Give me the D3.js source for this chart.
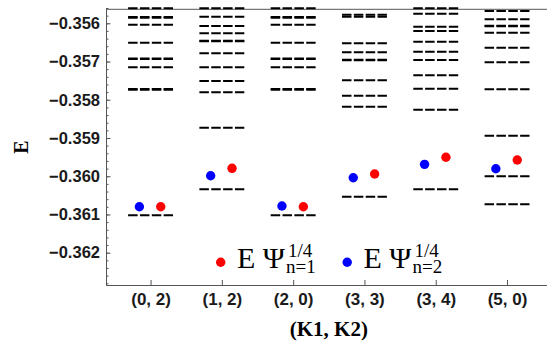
<!DOCTYPE html>
<html>
<head>
    <meta charset="utf-8">
    <script src="https://cdn.jsdelivr.net/npm/d3@7/dist/d3.min.js"></script>
</head>
<body style="margin:0;background:#fff">
<style>
    .level{
        stroke:#000;
        stroke-width:2;
        stroke-dasharray:9.5,2.35;
        fill:none;
    }
    .axis path,.axis line{stroke:#555;}
    .axis text{font-family:"Liberation Sans",Arial,sans-serif;font-weight:bold;fill:#1a1a1a;}
</style>
<script>
    var w=547,
        h=341;

    // K1,K2 pairs on the x axis
    var categories=["(0, 2)","(1, 2)","(2, 0)","(3, 3)","(3, 4)","(5, 0)"];

    // dashed energy levels for each (K1,K2)
    var levels02=[-0.355608,-0.355836,-0.355852,-0.356037,-0.356507,-0.356918,-0.356934,-0.357151,-0.357719,-0.357735,-0.361023];
    var levels12=[-0.355608,-0.355827,-0.356071,-0.356262,-0.356455,-0.356471,-0.356785,-0.357151,-0.357509,-0.357805,-0.358731,-0.360343];
    var levels20=[-0.355608,-0.355836,-0.355852,-0.356037,-0.356507,-0.356918,-0.356934,-0.357151,-0.357719,-0.357735,-0.361023];
    var levels33=[-0.355775,-0.355827,-0.356523,-0.356759,-0.356952,-0.356968,-0.357491,-0.357894,-0.358182,-0.360536];
    var levels34=[-0.355608,-0.355749,-0.356089,-0.356201,-0.356481,-0.356743,-0.356960,-0.357360,-0.357711,-0.358260,-0.360343];
    var levels50=[-0.355678,-0.355895,-0.356063,-0.356079,-0.356246,-0.356638,-0.357020,-0.357727,-0.358940,-0.360003,-0.360735];
    var levels=[levels02,levels12,levels20,levels33,levels34,levels50];

    // E Psi n=1 (red) and n=2 (blue)
    var psi1=[-0.360798,-0.359793,-0.360798,-0.359942,-0.359505,-0.359576];
    var psi2=[-0.360798,-0.359987,-0.360779,-0.360039,-0.359689,-0.359804];

    var yTicks=[-0.356,-0.357,-0.358,-0.359,-0.360,-0.361,-0.362];

    var svg=d3.select('body').append('svg').attr('width',w).attr('height',h);

    var pLeft=106,pRight=551.6,pTop=9.3,pBottom=285;

    var x=d3.scalePoint().domain(categories).range([pLeft,pRight]).padding(0.625);
    var y=d3.scaleLinear().domain([-0.362845,-0.355634]).range([pBottom,pTop]);
    var step=x.step();

    // frame top line
    svg.append('line').attr('x1',pLeft).attr('x2',w).attr('y1',pTop).attr('y2',pTop)
        .attr('stroke','#555').attr('stroke-width',1);

    // minor y ticks
    var minor=[];
    for(var v=-0.3628;v<=-0.3556;v+=0.0002){
        minor.push(+v.toFixed(4));
    }
    svg.append('g').attr('class','axis').attr('transform','translate('+pLeft+',0)')
        .call(d3.axisLeft(y).tickValues(minor).tickSize(-2.5).tickFormat(''))
        .select('.domain').remove();

    svg.append('g').attr('class','axis').attr('transform','translate('+pLeft+',0)')
        .call(d3.axisLeft(y).tickValues(yTicks).tickSize(-4.5).tickSizeOuter(0).tickPadding(6).tickFormat(d3.format('.3f')))
        .selectAll('text').style('font-size','16.5px');

    svg.append('g').attr('class','axis').attr('transform','translate(0,'+pBottom+')')
        .call(d3.axisBottom(x).tickSize(-5).tickSizeOuter(0).tickPadding(8))
        .selectAll('text').style('font-size','17px');

    // extend bottom axis line to the edge
    svg.append('line').attr('x1',pLeft).attr('x2',w).attr('y1',pBottom+0.5).attr('y2',pBottom+0.5)
        .attr('stroke','#555').attr('stroke-width',1);

    // dashed levels
    var lineArray=[];
    levels.forEach(function(arr,i){
        arr.forEach(function(v){
            lineArray.push({c:categories[i],v:v});
        });
    });
    svg.selectAll('line.level').data(lineArray).enter().append('line')
        .attr('class','level')
        .attr('x1',function(d){return x(d.c)-step*0.315})
        .attr('x2',function(d){return x(d.c)+step*0.315})
        .attr('y1',function(d){return y(d.v)})
        .attr('y2',function(d){return y(d.v)});

    // points
    svg.selectAll('circle.p2').data(psi2).enter().append('circle')
        .attr('class','p2')
        .attr('cx',function(d,i){return x(categories[i])-step*0.157})
        .attr('cy',function(d){return y(d)})
        .attr('r',4.7).attr('fill','#0000ff');
    svg.selectAll('circle.p1').data(psi1).enter().append('circle')
        .attr('class','p1')
        .attr('cx',function(d,i){return x(categories[i])+step*0.143})
        .attr('cy',function(d){return y(d)})
        .attr('r',4.7).attr('fill','#ff0000');

    // axis labels
    svg.append('text').attr('transform','translate(28,147) rotate(-90)')
        .attr('text-anchor','middle')
        .style('font-family','"Liberation Serif",serif').style('font-weight','bold').style('font-size','20px')
        .text('E');
    svg.append('text').attr('x',(pLeft+pRight)/2).attr('y',336)
        .attr('text-anchor','middle')
        .style('font-family','"Liberation Serif",serif').style('font-weight','bold').style('font-size','21px')
        .text('(K1, K2)');

    // legend
    var legend=[{n:'1',color:'#ff0000'},{n:'2',color:'#0000ff'}];
    var lg=svg.selectAll('g.legend').data(legend).enter().append('g')
        .attr('class','legend')
        .attr('transform',function(d,i){return 'translate('+(i*126.5)+',0)'})
        .style('font-family','"Liberation Serif",serif');
    lg.append('circle').attr('cx',220.7).attr('cy',262.3).attr('r',4.7).attr('fill',function(d){return d.color});
    var lt=lg.append('text').attr('x',237).attr('y',267.5).style('font-size','30px');
    lt.append('tspan').text('E \u03A8');
    lt.append('tspan').attr('x',288).attr('y',256.5).style('font-size','19px').text('1/4');
    lt.append('tspan').attr('x',286).attr('y',272.5).style('font-size','19px').text(function(d){return 'n='+d.n});
</script>
</body>
</html>
